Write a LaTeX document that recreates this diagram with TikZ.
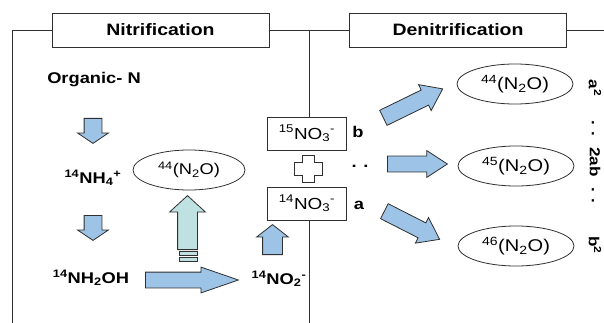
\documentclass[tikz,border=0pt]{standalone}
\usepackage{fontspec}
\setmainfont{Liberation Sans}[FakeStretch=1.18]
\usetikzlibrary{shapes.arrows,shapes.geometric}
\definecolor{linec}{HTML}{303030}
\definecolor{arrowblue}{HTML}{9DC3E6}
\definecolor{arrowteal}{HTML}{BFE1E1}
\newcommand{\sub}[1]{\textsubscript{#1}}
\newcommand{\spr}[1]{\textsuperscript{#1}}
\begin{document}
\begin{tikzpicture}[x=1pt,y=-1pt,
  frameline/.style={draw=linec,line width=0.9pt},
  header/.style={draw=linec,line width=0.9pt,fill=white,minimum width=217pt,minimum height=34pt,inner sep=0pt,font=\fontsize{16.5}{18}\selectfont\bfseries},
  chem/.style={font=\fontsize{15.5}{17}\selectfont\bfseries,inner sep=0pt},
  boxlbl/.style={draw=linec,line width=0.9pt,fill=white,inner sep=0pt,font=\fontsize{16}{18}\selectfont},
  oval/.style={ellipse,draw=linec,line width=0.8pt,inner sep=0pt,minimum width=116pt,minimum height=40pt,font=\fontsize{17}{19}\selectfont},
  fat/.style={single arrow,draw=linec,line width=0.8pt,fill=arrowblue,inner sep=0pt,text depth=0pt,text width=0pt,single arrow head indent=0pt,anchor=tail},
  side/.style={font=\fontsize{14.5}{16}\selectfont\bfseries,inner sep=0pt,rotate=-90}
]
\useasboundingbox (0,0) rectangle (604,323);
% frame
\node[header] (nit) at (160.5,30) {Nitrification};
\node[header] (den) at (458,30) {Denitrification};
\node[boxlbl,minimum width=79pt,minimum height=33pt] (b15) at (307,133.5) {\spr{15}NO\sub{3}\spr{-}};
\node[boxlbl,minimum width=79pt,minimum height=33pt] (b14) at (307,203.5) {\spr{14}NO\sub{3}\spr{-}};
\coordinate (tl) at (12,30);
\coordinate (bl) at (12,323);
\coordinate (tm) at (309,30);
\coordinate (bm) at (309,323);
\coordinate (tr) at (604,30);
\draw[frameline] (bl) -- (tl) -- (nit.west);
\draw[frameline] (nit.east) -- (den.west);
\draw[frameline] (den.east) -- (tr);
\draw[frameline] (tm) -- (b15.north -| tm);
\draw[frameline] (b14.south -| bm) -- (bm);
% plus sign
\draw[draw=linec,line width=0.8pt,fill=white]
  (302,155) -- (314,155) -- (314,162) -- (322,162) -- (322,175) -- (314,175) -- (314,182)
  -- (302,182) -- (302,175) -- (294,175) -- (294,162) -- (302,162) -- cycle;
% left texts
\node[chem] (org) at (94,80) {Organic- N};
\node[chem] (nh4) at (93,178) {\spr{14}NH\sub{4}\spr{+}};
\node[chem] (nh2oh) at (91,278) {\spr{14}NH\sub{2}OH};
\node[chem] (no2) at (279,279) {\spr{14}NO\sub{2}\spr{-}};
\node[oval,minimum width=112pt,minimum height=40pt,font=\fontsize{15.5}{17}\selectfont] (n2oL) at (189,170) {\spr{44}(N\sub{2}O)};
% left arrows
\node[fat,rotate=-90,minimum height=25pt,text height=17pt,single arrow head extend=6.5pt,single arrow tip angle=112] (a1) at (93,118) {};
\node[fat,rotate=-90,minimum height=25pt,text height=17pt,single arrow head extend=6.5pt,single arrow tip angle=112] (a2) at (93,215) {};
\node[fat,minimum height=93pt,text height=15pt,single arrow head extend=5pt,single arrow tip angle=38] (a3) at (145,280) {};
\node[fat,fill=arrowteal,rotate=90,minimum height=54pt,text height=19pt,single arrow head extend=8pt,single arrow tip angle=95] (a4) at (187.5,250) {};
\draw[draw=linec,line width=0.8pt,fill=arrowteal] (179,251.5) rectangle (197,255);
\draw[draw=linec,line width=0.8pt,fill=arrowteal] (179,257.5) rectangle (197,261);
\node[fat,rotate=90,minimum height=30pt,text height=19pt,single arrow head extend=6pt,single arrow tip angle=104] (a5) at (272.5,255) {};
% a, b, dots
\node[chem] (lb) at (358,132) {b};
\node[chem] (la) at (359,205) {a};
\node[chem] (dm) at (360,166) {. .};
% right arrows
\node[fat,rotate=26,minimum height=66pt,text height=16pt,single arrow head extend=6pt,single arrow tip angle=72] (r1) at (383,118) {};
\node[fat,minimum height=60pt,text height=15pt,single arrow head extend=5.5pt,single arrow tip angle=66] (r2) at (387,164) {};
\node[fat,rotate=-27,minimum height=62pt,text height=16pt,single arrow head extend=6pt,single arrow tip angle=72] (r3) at (384,211) {};
% right ellipses
\node[oval] (e44) at (515,84) {\spr{44}(N\sub{2}O)};
\node[oval] (e45) at (516,166) {\spr{45}(N\sub{2}O)};
\node[oval] (e46) at (516,246) {\spr{46}(N\sub{2}O)};
% side labels
\node[side] (sa) at (595,88) {a\spr{2}};
\node[side] (sd1) at (593,128) {. .};
\node[side] (sab) at (595,162) {2ab};
\node[side] (sd2) at (593,195) {. .};
\node[side] (sb) at (595,245) {b\spr{2}};
\end{tikzpicture}
\end{document}
